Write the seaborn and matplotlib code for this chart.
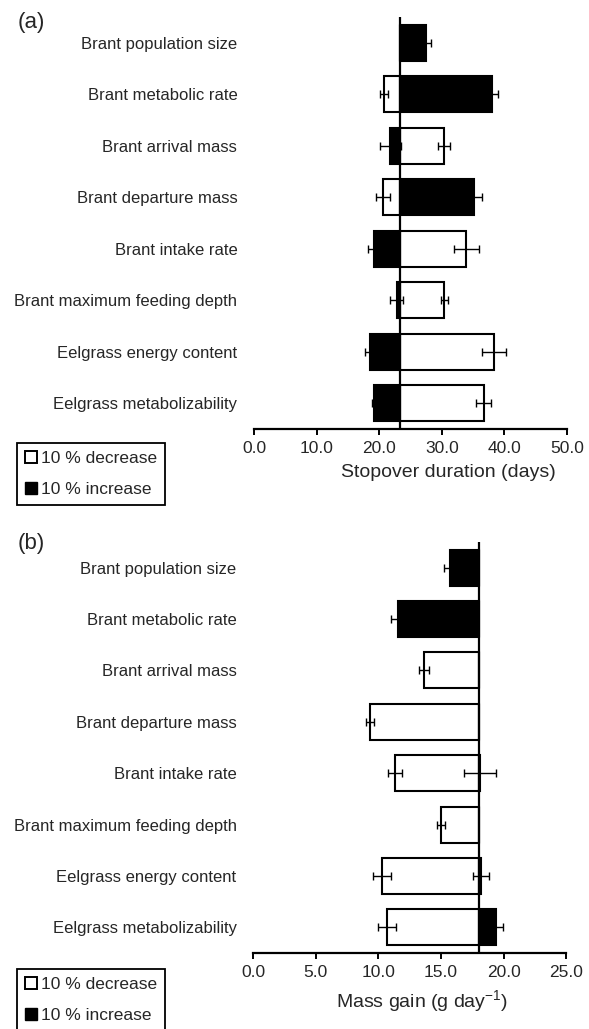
import numpy as np
import pandas as pd
import matplotlib.pyplot as plt
import seaborn as sns
from matplotlib.lines import Line2D

labels = ["Brant population size", "Brant metabolic rate", "Brant arrival mass",
          "Brant departure mass", "Brant intake rate", "Brant maximum feeding depth",
          "Eelgrass energy content", "Eelgrass metabolizability"]

# (a) stopover duration (days)
base_a = 23.3
dec_a = [23.3, 20.8, 30.4, 20.6, 33.9, 30.4, 38.3, 36.7]
dec_a_err = [0, 0.67, 0.96, 1.07, 1.97, 0.59, 1.92, 1.17]
inc_a = [27.4, 38.0, 21.8, 35.1, 19.2, 22.8, 18.5, 19.1]
inc_a_err = [0.9, 1.0, 1.7, 1.35, 1.05, 1.0, 0.75, 0.2]

# (b) mass gain (g/day)
base_b = 18.05
dec_b = [18.05, 18.05, 13.65, 9.33, 11.33, 15.0, 10.31, 10.66]
dec_b_err = [0, 0, 0.4, 0.32, 0.56, 0.3, 0.72, 0.73]
inc_b = [15.7, 11.54, 18.05, 18.05, 18.1, 18.05, 18.2, 19.4]
inc_b_err = [0.45, 0.56, 0, 0, 1.25, 0, 0.63, 0.53]

sns.set_style("white")
plt.rcParams['font.family'] = ['Liberation Sans', 'DejaVu Sans']
plt.rcParams['mathtext.fontset'] = 'custom'
plt.rcParams['mathtext.rm'] = 'Liberation Sans'
plt.rcParams['mathtext.default'] = 'regular'

fig = plt.figure(figsize=(5.89, 10.29), dpi=100)
ax_a = fig.add_axes([0.4312, 0.5831, 0.5315, 0.4004])
ax_b = fig.add_axes([0.4300, 0.0739, 0.5315, 0.3994])


def tornado(ax, base, dec, dec_err, inc, inc_err, xmax, step, xlabel, label_x):
    df = pd.DataFrame({"label": labels,
                       "dec": np.array(dec) - base,
                       "inc": np.array(inc) - base})
    sns.barplot(data=df, x="dec", y="label", orient="h", left=base, color="white",
                saturation=1, edgecolor="black", linewidth=1.5, width=0.7,
                errorbar=None, ax=ax)
    sns.barplot(data=df, x="inc", y="label", orient="h", left=base, color="black",
                saturation=1, edgecolor="black", linewidth=1.5, width=0.7,
                errorbar=None, ax=ax)
    pos = np.arange(len(labels))
    for vals, errs in [(dec, dec_err), (inc, inc_err)]:
        vals = np.array(vals)
        errs = np.array(errs)
        m = errs > 0
        ax.errorbar(vals[m], pos[m], xerr=errs[m], fmt="none", ecolor="black",
                    elinewidth=1, capsize=3, capthick=1, zorder=5)
    ax.axvline(base, color="black", lw=1.6, zorder=6)
    ax.set_xlim(0, xmax)
    ax.set_ylim(len(labels) - 0.5, -0.5)
    ax.set_xticks(np.arange(0, xmax + 0.01, step))
    ax.set_xticklabels([f"{t:.1f}" for t in np.arange(0, xmax + 0.01, step)])
    ax.tick_params(axis="x", direction="out", length=4, width=1.4, pad=5,
                   labelsize=12.5, color="black", bottom=True)
    ax.tick_params(axis="y", length=0, pad=12, labelsize=12)
    ax.set_ylabel("")
    ax.set_xlabel(xlabel, fontsize=14)
    ax.xaxis.set_label_coords(label_x, -0.085)
    sns.despine(ax=ax, left=True)
    ax.spines["bottom"].set_linewidth(1.6)
    ax.spines["bottom"].set_color("black")


tornado(ax_a, base_a, dec_a, dec_a_err, inc_a, inc_a_err, 50, 10,
        "Stopover duration (days)", 0.62)
tornado(ax_b, base_b, dec_b, dec_b_err, inc_b, inc_b_err, 25, 5,
        "Mass gain (g day$^{-1}$)", 0.54)

fig.text(0.030, 1 - 22 / 1029, "(a)", fontsize=16, va="center")
fig.text(0.030, 1 - 543 / 1029, "(b)", fontsize=16, va="center")

handles = [Line2D([], [], ls="none", marker="s", markersize=8, markerfacecolor="white",
                  markeredgecolor="black", markeredgewidth=1.4),
           Line2D([], [], ls="none", marker="s", markersize=8, markerfacecolor="black",
                  markeredgecolor="black")]
names = ["10 % decrease", "10 % increase"]
for top in [1 - 443 / 1029, 1 - 969 / 1029]:
    leg = fig.legend(handles, names, loc="upper left", bbox_to_anchor=(17 / 589, top),
                     borderaxespad=0, fancybox=False, framealpha=1, edgecolor="black",
                     fontsize=12.5, handlelength=0.7, handletextpad=0.25,
                     labelspacing=0.9, borderpad=0.45)
    leg.get_frame().set_linewidth(1.3)

fig.savefig("out.png", dpi=100)
